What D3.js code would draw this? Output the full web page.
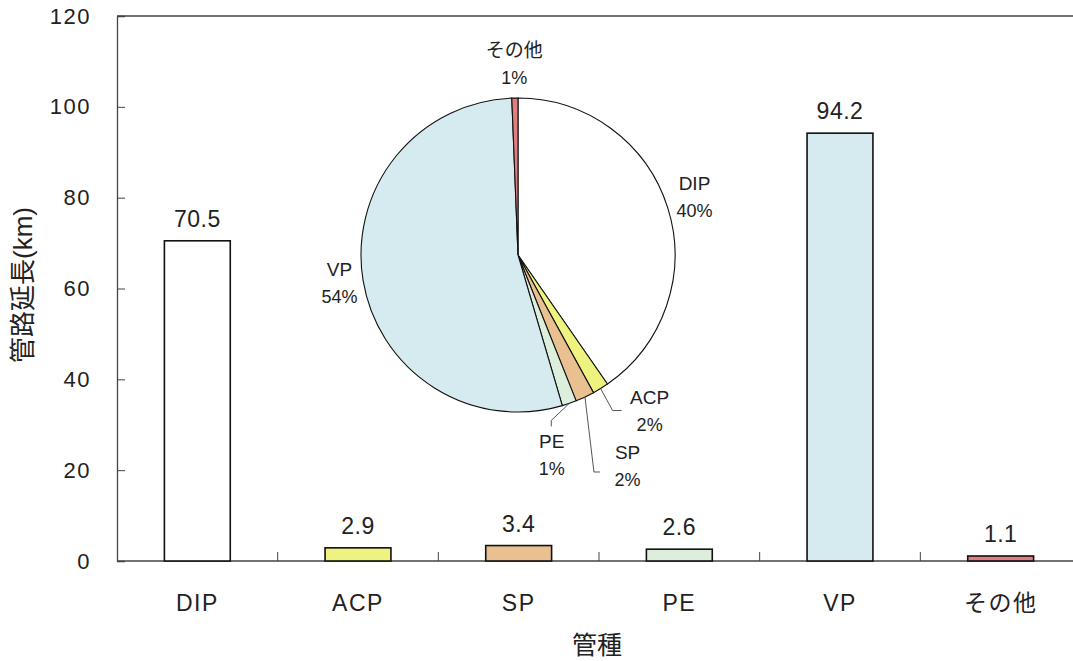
<!DOCTYPE html>
<html>
<head>
<meta charset="utf-8">
<script src="https://cdn.jsdelivr.net/npm/d3@7"></script>
<style>
  body { margin: 0; background: #fff; }
  svg text { font-family: "Liberation Sans", "Noto Sans CJK JP", sans-serif; fill: #222; }
</style>
</head>
<body>
<svg id="chart"></svg>
<script>
const categories = ["DIP", "ACP", "SP", "PE", "VP", "その他"];
const lengths = [70.5, 2.9, 3.4, 2.6, 94.2, 1.1];
const shareLabels = ["40%", "2%", "2%", "1%", "54%", "1%"];
const yTicks = [0, 20, 40, 60, 80, 100, 120];
const colors = ["#ffffff", "#eef27e", "#e9c090", "#dcefdc", "#d6ebef", "#e27d7d"];

const width = 1073, height = 661;
const margin = { top: 16, left: 117, bottom: 100 };
const plotRight = 1081;

const svg = d3.select("#chart").attr("width", width).attr("height", height);

const x = d3.scaleBand().domain(categories).range([margin.left, plotRight]).paddingInner(0.59).paddingOuter(0.295);
const y = d3.scaleLinear().domain([0, 120]).range([height - margin.bottom, margin.top]);

// ----------------------- frame
svg.append("line")
   .attr("x1", margin.left).attr("x2", width)
   .attr("y1", y(120)).attr("y2", y(120))
   .attr("stroke", "#444").attr("stroke-width", 1.3);

const yAxis = svg.append("g")
   .attr("transform", `translate(${margin.left},0)`)
   .call(d3.axisLeft(y).tickValues(yTicks).tickSize(-8).tickPadding(26));
yAxis.select(".domain").attr("stroke", "#444").attr("stroke-width", 1.3);
yAxis.selectAll(".tick line").attr("stroke", "#444");
yAxis.selectAll(".tick text").attr("font-size", 22).attr("fill", "#222").style("letter-spacing", "1.5px");

const step = x.step();
const xAxis = svg.append("g").attr("transform", `translate(0,${y(0)})`);
xAxis.append("line")
   .attr("x1", margin.left).attr("x2", width)
   .attr("stroke", "#444").attr("stroke-width", 1.3);
xAxis.selectAll(".sep")
   .data(categories.slice(1))
   .join("line")
   .attr("class", "sep")
   .attr("x1", d => x(d) - (step - x.bandwidth()) / 2)
   .attr("x2", d => x(d) - (step - x.bandwidth()) / 2)
   .attr("y1", 0).attr("y2", -9)
   .attr("stroke", "#444");
xAxis.selectAll(".cat")
   .data(categories)
   .join("text")
   .attr("class", "cat")
   .attr("x", d => x(d) + x.bandwidth() / 2)
   .attr("y", 50)
   .attr("text-anchor", "middle")
   .attr("font-size", 23)
   .style("letter-spacing", "1.5px")
   .text(d => d);

// ----------------------- bars
svg.selectAll(".bar")
   .data(categories)
   .join("rect")
   .attr("class", "bar")
   .attr("x", d => x(d))
   .attr("width", x.bandwidth())
   .attr("y", (d, i) => y(lengths[i]))
   .attr("height", (d, i) => y(0) - y(lengths[i]))
   .attr("fill", (d, i) => colors[i])
   .attr("stroke", "#111")
   .attr("stroke-width", 1.6);

svg.selectAll(".val")
   .data(categories)
   .join("text")
   .attr("class", "val")
   .attr("x", d => x(d) + x.bandwidth() / 2)
   .attr("y", (d, i) => y(lengths[i]) - 14)
   .attr("text-anchor", "middle")
   .attr("font-size", 23)
   .style("letter-spacing", "0.5px")
   .text((d, i) => lengths[i].toFixed(1));

// ----------------------- titles
svg.append("text")
   .attr("transform", `translate(32,${285}) rotate(-90)`)
   .attr("text-anchor", "middle")
   .attr("font-size", 26)
   .text("管路延長(km)");

svg.append("text")
   .attr("x", 597).attr("y", 654)
   .attr("text-anchor", "middle")
   .attr("font-size", 25)
   .text("管種");

// ----------------------- pie
const cx = 518, cy = 255, r = 157;
const pie = d3.pie().sort(null).value(d => d);
const arcs = pie(lengths);
const arc = d3.arc().innerRadius(0).outerRadius(r);

const pieG = svg.append("g").attr("transform", `translate(${cx},${cy})`);
pieG.selectAll("path")
   .data(arcs)
   .join("path")
   .attr("d", arc)
   .attr("fill", (d, i) => colors[i])
   .attr("stroke", "#111")
   .attr("stroke-width", 1.1);

// label placement: [radius, dx, dy] relative to slice mid-angle
const labelPos = [
   [187, -2, -5],  // DIP
   [178, 38, 2],   // ACP
   [196, 26, 31],  // SP
   [183, -26, 24], // PE
   [183, 2, -5],   // VP
   [186, 0, -8]    // その他
];
const polar = (a, rr) => [Math.sin(a) * rr, -Math.cos(a) * rr];

arcs.forEach((d, i) => {
   const mid = (d.startAngle + d.endAngle) / 2;
   const [lx, ly] = polar(mid, labelPos[i][0]);
   const px = lx + labelPos[i][1], py = ly + labelPos[i][2];
   const t = pieG.append("text")
      .attr("text-anchor", "middle")
      .attr("font-size", 19)
      .attr("transform", `translate(${px},${py})`);
   t.append("tspan").attr("x", 0).attr("y", -4).text(categories[i]);
   t.append("tspan").attr("x", 0).attr("y", 23).attr("font-size", 18).text(shareLabels[i]);
});

// leader lines for the small slices
const line = d3.line();
[[1, [[0, 0], [12, 22], [21, 22]]],
 [2, [[0, 0], [9, 75], [15, 75]]],
 [3, [[0, 0], [-18, 17], [-18, 23]]]].forEach(([i, off]) => {
   const mid = (arcs[i].startAngle + arcs[i].endAngle) / 2;
   const [sx, sy] = polar(mid, r);
   pieG.append("path")
      .attr("d", line(off.map(([dx, dy]) => [sx + dx, sy + dy])))
      .attr("fill", "none")
      .attr("stroke", "#555")
      .attr("stroke-width", 1);
});
</script>
</body>
</html>
